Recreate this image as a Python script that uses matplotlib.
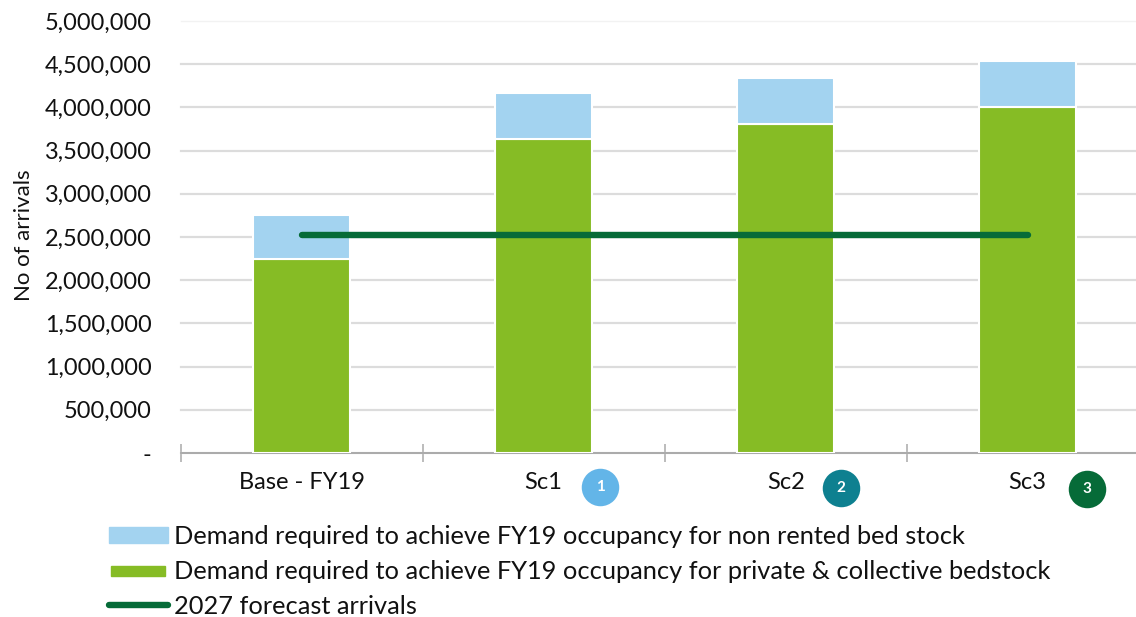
import matplotlib
matplotlib.use("Agg")
import matplotlib.pyplot as plt
from matplotlib.patches import Rectangle
from matplotlib.lines import Line2D
from matplotlib.legend_handler import HandlerPatch
from matplotlib.ticker import FuncFormatter, FixedLocator, NullFormatter

categories = ["Base - FY19", "Sc1", "Sc2", "Sc3"]
private_collective = [2245000, 3630000, 3810000, 4005000]
non_rented = [510000, 535000, 530000, 530000]
forecast = [2525000, 2525000, 2525000, 2525000]
y_ticks = [0, 500000, 1000000, 1500000, 2000000, 2500000, 3000000, 3500000, 4000000, 4500000, 5000000]
label_blue = "Demand required to achieve FY19 occupancy for non rented bed stock"
label_green = "Demand required to achieve FY19 occupancy for private & collective bedstock"
label_line = "2027 forecast arrivals"
badges = ["1", "2", "3"]
badge_colors = ["#63B5E8", "#0E8090", "#066B38"]
badge_px = [(600, 487), (841, 488), (1087, 489)]

W, H = 1136, 617
plt.rcParams["font.family"] = ["Lato", "DejaVu Sans"]
FS = 16.9
LFS = 18.3
fig = plt.figure(figsize=(W / 100, H / 100), dpi=100)
ax = fig.add_axes([180.6 / W, 1 - 453 / H, 968 / W, 432 / H])
ax.set_xlim(-0.5, 3.5)
ax.set_ylim(0, 5000000)
x = range(len(categories))
ax.bar(x, private_collective, width=0.4, color="#86BC25", edgecolor="white", linewidth=1.5, zorder=3)
ax.bar(x, non_rented, bottom=private_collective, width=0.4, color="#A3D3F0", edgecolor="white", linewidth=1.5, zorder=3)
ax.plot(x, forecast, color="#066B38", lw=4.6, solid_capstyle="round", zorder=4)

ax.set_yticks(y_ticks)
ax.yaxis.set_major_formatter(FuncFormatter(lambda v, p: "-" if v == 0 else f"{int(v):,}"))
ax.grid(axis="y", color="#DCDCDC", lw=1.6, zorder=0, clip_on=False)
ax.set_axisbelow(True)
for s in ["top", "left", "right"]:
    ax.spines[s].set_visible(False)
ax.spines["bottom"].set_color("#A6A6A6")
ax.spines["bottom"].set_linewidth(1.3)
ax.set_xticks(list(x))
ax.set_xticklabels(categories)
ax.xaxis.set_minor_locator(FixedLocator([-0.5, 0.5, 1.5, 2.5, 3.5]))
ax.xaxis.set_minor_formatter(NullFormatter())
ax.tick_params(axis="x", which="major", length=0, pad=13.5, labelsize=17, labelcolor="#111111")
ax.tick_params(axis="x", which="minor", length=13, direction="inout", color="#B0B0B0", width=1.2)
ax.tick_params(axis="y", length=0, pad=21, labelsize=FS, labelcolor="#111111")
top_grid = ax.get_ygridlines()[-1]
top_grid.set_color("#F2F2F2")
top_grid.set_linewidth(1.0)
fig.text(24 / W, 1 - 235 / H, "No of arrivals", rotation=90, ha="center", va="center", fontsize=16, color="#111111")

for t, c, (px, py) in zip(badges, badge_colors, badge_px):
    fx, fy = px / W, 1 - py / H
    fig.add_artist(Line2D([fx], [fy], marker="o", ms=27, mfc=c, mec="none", ls="none", transform=fig.transFigure))
    fig.text(fx, fy, t, color="white", fontsize=11, fontweight="bold", ha="center", va="center")

def green_handle(legend, orig_handle, xdescent, ydescent, width, height, fontsize):
    return Rectangle((xdescent + 2, ydescent + height * 0.2), width - 4, height * 0.6)

blue_patch = Rectangle((0, 0), 1, 1, color="#A3D3F0", label=label_blue)
green_patch = Rectangle((0, 0), 1, 1, color="#86BC25", label=label_green)
line_handle = Line2D([0], [0], color="#066B38", lw=4.6, solid_capstyle="round", label=label_line)
fig.legend(handles=[blue_patch, green_patch, line_handle],
           loc="upper left", bbox_to_anchor=(108.5 / W, 1 - 525 / H), frameon=False, fontsize=LFS,
           labelcolor="#111111", handlelength=2.35, handleheight=0.62, handletextpad=0.22,
           labelspacing=0.47, borderpad=0, borderaxespad=0,
           handler_map={green_patch: HandlerPatch(patch_func=green_handle)})
fig.savefig("out.png", dpi=100)
